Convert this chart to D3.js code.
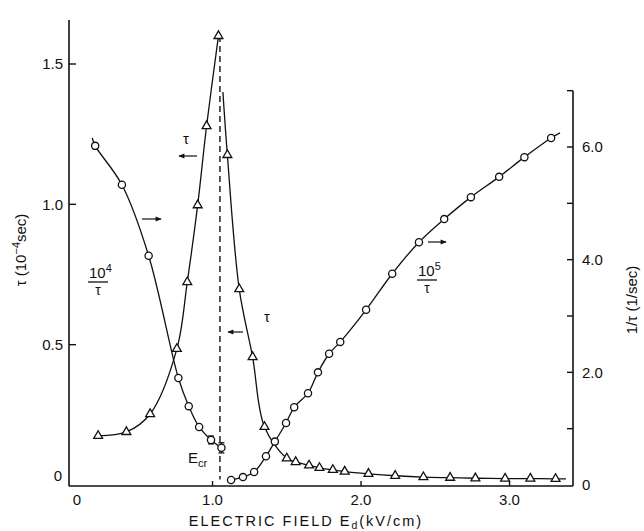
<!DOCTYPE html>
<html><head><meta charset="utf-8">
<script src="https://cdn.jsdelivr.net/npm/d3@7"></script>
<style>
body{margin:0;background:#fff}
svg{display:block}
text{font-family:"Liberation Sans",Arial,sans-serif;fill:#111}
</style>
</head><body>
<svg id="c" width="644" height="531"></svg>
<script>
// ---- data (E in kV/cm) ----
// tau (10^-4 s), left axis, rising branch (triangles)
const tauRiseE   = [0.23, 0.42, 0.58, 0.76, 0.83, 0.90, 0.96, 1.04];
const tauRise    = [0.175, 0.189, 0.253, 0.485, 0.723, 0.997, 1.279, 1.60];
// tau falling branch (triangles)
const tauFallE   = [1.10, 1.18, 1.27, 1.35, 1.50, 1.56, 1.65, 1.72, 1.81, 1.89, 2.05, 2.23, 2.42, 2.60, 2.77, 2.97, 3.14, 3.31];
const tauFall    = [1.176, 0.698, 0.456, 0.207, 0.095, 0.082, 0.070, 0.061, 0.054, 0.048, 0.040, 0.033, 0.028, 0.026, 0.024, 0.023, 0.023, 0.022];
const tauFallLineStart = [1.07, 1.40];
const tauFallLineEnd   = [3.38, 0.022];
// 10^4/tau (right axis, 1/s), below E_cr (circles)
const invLowE    = [0.21, 0.39, 0.57, 0.77, 0.84, 0.91, 0.99, 1.06];
const invLow     = [6.02, 5.33, 4.07, 1.90, 1.40, 1.03, 0.80, 0.66];
const invLowErr  = [0, 0, 0, 0, 0, 0, 0.07, 0.09];
const invLowLineStart = [0.19, 6.16];
// 10^5/tau (right axis), above E_cr (circles)
const invHighE   = [1.125, 1.205, 1.28, 1.36, 1.42, 1.495, 1.55, 1.643, 1.71, 1.785, 1.86, 2.034, 2.21, 2.39, 2.56, 2.74, 2.93, 3.10, 3.28];
const invHigh    = [0.09, 0.14, 0.23, 0.51, 0.77, 1.10, 1.38, 1.63, 2.00, 2.33, 2.54, 3.11, 3.75, 4.31, 4.72, 5.11, 5.47, 5.82, 6.16];
const invHighLineEnd = [3.34, 6.25];
const Ecr = 1.05;
// ticks
const xTickVals = [1, 2, 3];
const xTickLabels = ["1.0", "2.0", "3.0"];
const yLTickVals = [0.5, 1.0, 1.5];
const yLTickLabels = ["0.5", "1.0", "1.5"];
const yRTickVals = [1, 2, 3, 4, 5, 6, 7];
const yRLabelVals = [2, 4, 6];
const yRLabels = ["2.0", "4.0", "6.0"];

// ---- scales ----
const x  = d3.scaleLinear().domain([0, 3.43]).range([64, 573.4]);
const yL = d3.scaleLinear().domain([0, 1.5]).range([485, 64]);
const yR = d3.scaleLinear().domain([0, 6]).range([485, 147]);

const svg = d3.select("#c");
const axisX0 = 69, axisX1 = 573, axisY = 486;

// axes lines
svg.append("line").attr("x1", axisX0).attr("x2", axisX0).attr("y1", 20).attr("y2", axisY)
  .attr("stroke", "#111").attr("stroke-width", 1.6);
svg.append("line").attr("x1", axisX0).attr("x2", axisX1).attr("y1", axisY).attr("y2", axisY)
  .attr("stroke", "#111").attr("stroke-width", 1.6);
svg.append("line").attr("x1", axisX1).attr("x2", axisX1).attr("y1", yR(7)).attr("y2", axisY)
  .attr("stroke", "#111").attr("stroke-width", 1.6);

// left ticks
svg.selectAll(".tl").data(yLTickVals).enter().append("line")
  .attr("x1", axisX0).attr("x2", axisX0 + 7).attr("y1", d => yL(d)).attr("y2", d => yL(d))
  .attr("stroke", "#111").attr("stroke-width", 1.4);
svg.selectAll(".tll").data(yLTickVals).enter().append("text")
  .attr("x", 63).attr("y", d => yL(d)).attr("dy", "0.36em").attr("text-anchor", "end")
  .attr("font-size", 15).text((d, i) => yLTickLabels[i]);
svg.append("text").attr("x", 58).attr("y", yL(0) - 4).attr("text-anchor", "middle")
  .attr("font-size", 15).text("0");

// right ticks
svg.selectAll(".tr").data(yRTickVals).enter().append("line")
  .attr("x1", axisX1 - 6).attr("x2", axisX1).attr("y1", d => yR(d)).attr("y2", d => yR(d))
  .attr("stroke", "#111").attr("stroke-width", 1.4);
svg.selectAll(".trl").data(yRLabelVals).enter().append("text")
  .attr("x", 582).attr("y", d => yR(d)).attr("dy", "0.36em")
  .attr("font-size", 15).text((d, i) => yRLabels[i]);
svg.append("text").attr("x", 582).attr("y", yR(0)).attr("dy", "0.36em")
  .attr("font-size", 15).text("0");

// bottom ticks
svg.selectAll(".tb").data(xTickVals).enter().append("line")
  .attr("x1", d => x(d)).attr("x2", d => x(d)).attr("y1", axisY).attr("y2", axisY - 5)
  .attr("stroke", "#111").attr("stroke-width", 1.4);
svg.selectAll(".tbl").data(xTickVals).enter().append("text")
  .attr("x", d => x(d)).attr("y", 505).attr("text-anchor", "middle")
  .attr("font-size", 15).text((d, i) => xTickLabels[i]);
svg.append("text").attr("x", 77).attr("y", 505).attr("text-anchor", "middle")
  .attr("font-size", 15).text("0");

// titles
const tl = svg.append("text").attr("transform", "translate(26,250) rotate(-90)")
  .attr("text-anchor", "middle").attr("font-size", 15);
tl.append("tspan").text("τ (10");
tl.append("tspan").attr("font-size", 11).attr("dy", -6).text("−4");
tl.append("tspan").attr("dy", 6).text("sec)");

const tr = svg.append("text").attr("transform", "translate(637,300) rotate(-90)")
  .attr("text-anchor", "middle").attr("font-size", 15);
tr.text("1/τ   (1/sec)");

const tb = svg.append("text").attr("x", 306).attr("y", 526).attr("text-anchor", "middle")
  .attr("font-size", 14.5).attr("letter-spacing", 2);
tb.append("tspan").text("ELECTRIC FIELD E");
tb.append("tspan").attr("font-size", 10.5).attr("dy", 3).text("d");
tb.append("tspan").attr("dy", -3).text("(kV/cm)");

// ---- curves ----
const line = (sx, sy) => d3.line().x(d => sx(d[0])).y(d => sy(d[1])).curve(d3.curveCatmullRom.alpha(0.5));
const zip = (a, b) => a.map((v, i) => [v, b[i]]);

const riseLine = zip(tauRiseE, tauRise);
const fallLine = [tauFallLineStart, ...zip(tauFallE, tauFall), tauFallLineEnd];
const lowLine = [invLowLineStart, ...zip(invLowE, invLow)];
const highLine = [...zip(invHighE, invHigh), invHighLineEnd];

svg.append("path").attr("d", line(x, yL)(riseLine)).attr("fill", "none").attr("stroke", "#111").attr("stroke-width", 1.3);
svg.append("path").attr("d", line(x, yL)(fallLine)).attr("fill", "none").attr("stroke", "#111").attr("stroke-width", 1.3);
svg.append("path").attr("d", line(x, yR)(lowLine)).attr("fill", "none").attr("stroke", "#111").attr("stroke-width", 1.3);
svg.append("path").attr("d", line(x, yR)(highLine)).attr("fill", "none").attr("stroke", "#111").attr("stroke-width", 1.3);

// E_cr dashed line
svg.append("line").attr("x1", x(Ecr)).attr("x2", x(Ecr)).attr("y1", yL(1.60)).attr("y2", yL(0.02))
  .attr("stroke", "#111").attr("stroke-width", 1.4).attr("stroke-dasharray", "6,4");

// error bars
const errData = zip(invLowE, invLow).map((d, i) => [d[0], d[1], invLowErr[i]]).filter(d => d[2] > 0);
errData.forEach(d => {
  const cx = x(d[0]), y1 = yR(d[1] + d[2]), y2 = yR(d[1] - d[2]);
  svg.append("line").attr("x1", cx).attr("x2", cx).attr("y1", y1).attr("y2", y2).attr("stroke", "#111").attr("stroke-width", 1.3);
  [y1, y2].forEach(yy => svg.append("line").attr("x1", cx - 3).attr("x2", cx + 3).attr("y1", yy).attr("y2", yy).attr("stroke", "#111").attr("stroke-width", 1.3));
});

// markers
const tri = d3.symbol().type(d3.symbolTriangle).size(34);
svg.selectAll(".tri").data([...riseLine, ...zip(tauFallE, tauFall)]).enter().append("path")
  .attr("d", tri).attr("transform", d => `translate(${x(d[0])},${yL(d[1])})`)
  .attr("fill", "#fff").attr("stroke", "#111").attr("stroke-width", 1.3);
svg.selectAll(".circ").data([...zip(invLowE, invLow), ...zip(invHighE, invHigh)]).enter().append("circle")
  .attr("cx", d => x(d[0])).attr("cy", d => yR(d[1])).attr("r", 3.6)
  .attr("fill", "#fff").attr("stroke", "#111").attr("stroke-width", 1.3);

// ---- annotations ----
svg.append("defs").append("marker").attr("id", "ah").attr("viewBox", "0 0 10 10")
  .attr("refX", 9).attr("refY", 5).attr("markerWidth", 6).attr("markerHeight", 5).attr("orient", "auto")
  .append("path").attr("d", "M0,1L10,5L0,9Z").attr("fill", "#111");
function arrow(x1, y1, x2, y2) {
  svg.append("line").attr("x1", x1).attr("y1", y1).attr("x2", x2).attr("y2", y2)
    .attr("stroke", "#111").attr("stroke-width", 1.2).attr("marker-end", "url(#ah)");
}
svg.append("text").attr("x", 183).attr("y", 144).attr("font-size", 15).text("τ");
arrow(197, 156, 179, 156);
svg.append("text").attr("x", 264).attr("y", 322).attr("font-size", 15).text("τ");
arrow(243, 332, 228, 332);
arrow(142, 219, 161, 219);
arrow(428, 242, 446, 242);

function frac(xl, yb, sup) {
  const t = svg.append("text").attr("x", xl).attr("y", yb).attr("font-size", 15);
  t.append("tspan").text("10");
  t.append("tspan").attr("font-size", 11).attr("dy", -6).text(sup);
  svg.append("line").attr("x1", xl - 1).attr("x2", xl + 19).attr("y1", yb + 4).attr("y2", yb + 4)
    .attr("stroke", "#111").attr("stroke-width", 1.3);
  svg.append("text").attr("x", xl + 9).attr("y", yb + 17).attr("text-anchor", "middle").attr("font-size", 14).text("τ");
}
frac(89, 278, "4");
frac(418, 276, "5");

const ec = svg.append("text").attr("x", 188).attr("y", 463).attr("font-size", 15);
ec.append("tspan").text("E");
ec.append("tspan").attr("font-size", 11).attr("dy", 4).text("cr");
</script>
</body></html>
